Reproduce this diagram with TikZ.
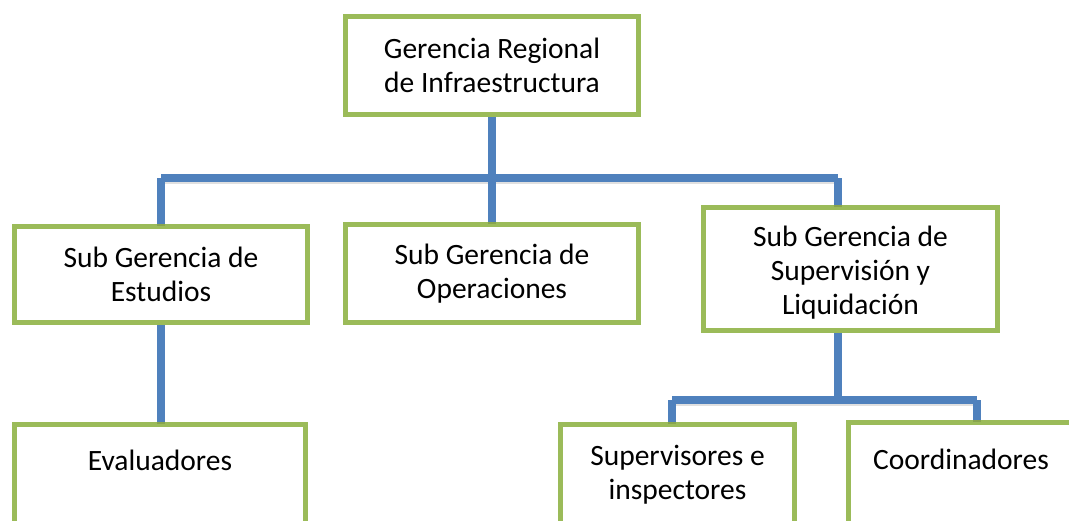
\documentclass[tikz,border=0pt]{standalone}
\usepackage{fontspec}
\setmainfont{Carlito}
\usepackage{xcolor}
\usepackage{tikz}
\usetikzlibrary{positioning}

\definecolor{verde}{HTML}{9BBB59}
\definecolor{azul}{HTML}{4F81BD}

\tikzset{
  caja/.style={draw=verde, line width=5pt, fill=white, align=center, inner sep=0pt,
    font=\fontsize{29.5}{34}\selectfont},
  linea/.style={draw=azul, line width=8pt,
    preaction={draw=black, opacity=0.12, line width=8pt, transform canvas={yshift=-2pt}}},
}

\begin{document}
\begin{tikzpicture}[x=1pt,y=-1pt]
  \clip (0,0) rectangle (1069,520);

  % Nodo de arriba
  \node[caja, minimum width=293pt, minimum height=98pt] (ger) at (492,65.5) {Gerencia Regional\\de Infraestructura};

  % Sub gerencias
  \node[caja, minimum width=293pt, minimum height=96pt] (sgest) at (161,274.5) {Sub Gerencia de\\Estudios};
  \node[caja, minimum width=293pt, minimum height=98pt] (sgope) at (492,273.5) {Sub Gerencia de\\Operaciones};
  \node[caja, minimum width=294pt, minimum height=123pt, text height=98pt, text depth=7pt] (sgsup) at (850.5,269) {Sub Gerencia de\\Supervisi\'on y\\Liquidaci\'on};

  % Nodos de abajo (cortados por el borde)
  \node[caja, minimum width=291pt, minimum height=115.5pt, text height=20pt, text depth=44pt] (eval) at (160,482) {Evaluadores};
  \node[caja, minimum width=234pt, minimum height=115.5pt, text height=41pt, text depth=7pt] (supins) at (677.5,482) {Supervisores e\\inspectores};
  \node[caja, minimum width=225pt, minimum height=117.5pt, text height=20pt, text depth=44pt] (coord) at (961,481) {Coordinadores};

  % Conexiones
  \coordinate (bizq) at (161,178);
  \coordinate (bder) at (838,178);
  \coordinate (cizq) at (672,400);
  \coordinate (cder) at (977,400);
  \draw[linea] (ger) -- (ger |- bizq);
  \draw[linea] (bizq) -- (bder);
  \draw[linea] (bizq) -- (sgest);
  \draw[linea] (ger |- bizq) -- (sgope);
  \draw[linea] (bder) -- (bder |- sgsup.north);
  \draw[linea] (sgest) -- (sgest |- eval.north);
  \draw[linea] (sgsup.south -| bder) -- (bder |- cizq);
  \draw[linea] (cizq) -- (cder);
  \draw[linea] (cizq) -- (cizq |- supins.north);
  \draw[linea] (cder) -- (cder |- coord.north);
\end{tikzpicture}
\end{document}
